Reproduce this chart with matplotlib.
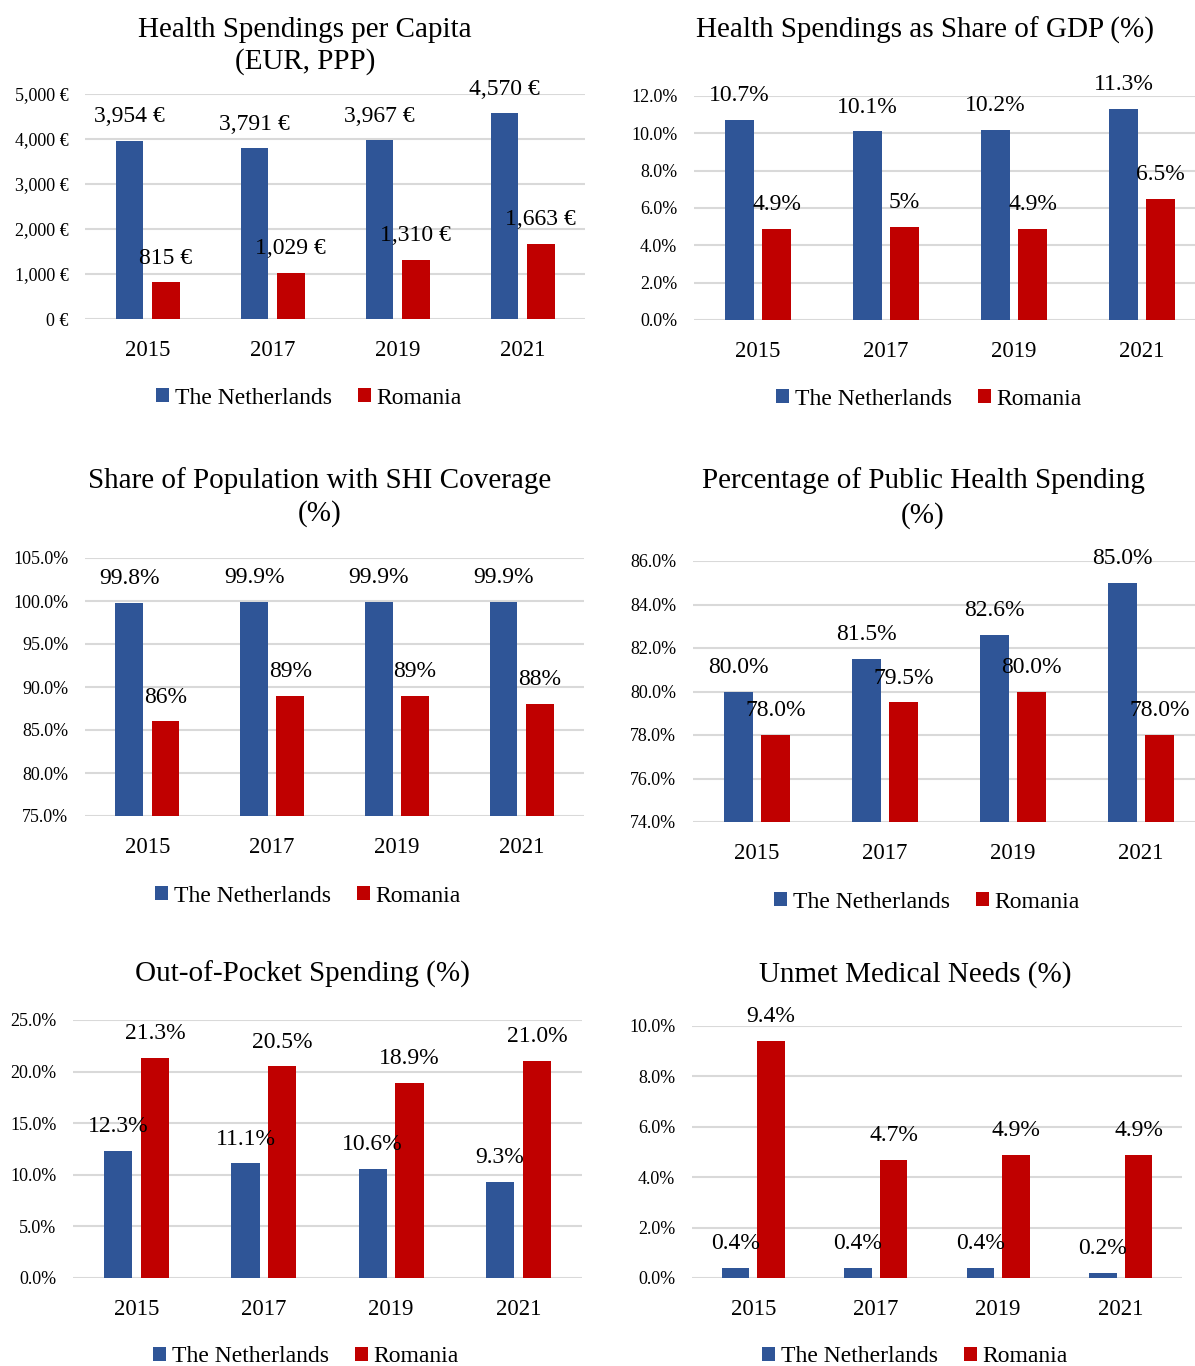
import matplotlib
matplotlib.use("Agg")
import matplotlib.pyplot as plt
from matplotlib.patches import Patch
import numpy as np

plt.rcParams['font.family'] = ['Liberation Serif', 'DejaVu Serif']

W, H = 1195, 1366
BLUE = '#2F5597'
RED = '#C00000'
GRID = '#D9D9D9'

years = ['2015', '2017', '2019', '2021']
series_names = ['The Netherlands', 'Romania']

# Panel 1: Health spendings per capita (EUR, PPP)
spend_nl = [3954, 3791, 3967, 4570]
spend_ro = [815, 1029, 1310, 1663]
spend_nl_lbl = ['3,954 €', '3,791 €', '3,967 €', '4,570 €']
spend_ro_lbl = ['815 €', '1,029 €', '1,310 €', '1,663 €']

# Panel 2: Health spendings as share of GDP (%)
gdp_nl = [10.7, 10.1, 10.2, 11.3]
gdp_ro = [4.9, 5.0, 4.9, 6.5]
gdp_nl_lbl = ['10.7%', '10.1%', '10.2%', '11.3%']
gdp_ro_lbl = ['4.9%', '5%', '4.9%', '6.5%']

# Panel 3: Share of population with SHI coverage (%)
shi_nl = [99.8, 99.9, 99.9, 99.9]
shi_ro = [86, 89, 89, 88]
shi_nl_lbl = ['99.8%', '99.9%', '99.9%', '99.9%']
shi_ro_lbl = ['86%', '89%', '89%', '88%']

# Panel 4: Percentage of public health spending (%)
pub_nl = [80.0, 81.5, 82.6, 85.0]
pub_ro = [78.0, 79.5, 80.0, 78.0]
pub_nl_lbl = ['80.0%', '81.5%', '82.6%', '85.0%']
pub_ro_lbl = ['78.0%', '79.5%', '80.0%', '78.0%']

# Panel 5: Out-of-pocket spending (%)
oop_nl = [12.3, 11.1, 10.6, 9.3]
oop_ro = [21.3, 20.5, 18.9, 21.0]
oop_nl_lbl = ['12.3%', '11.1%', '10.6%', '9.3%']
oop_ro_lbl = ['21.3%', '20.5%', '18.9%', '21.0%']

# Panel 6: Unmet medical needs (%)
unmet_nl = [0.4, 0.4, 0.4, 0.2]
unmet_ro = [9.4, 4.7, 4.9, 4.9]
unmet_nl_lbl = ['0.4%', '0.4%', '0.4%', '0.2%']
unmet_ro_lbl = ['9.4%', '4.7%', '4.9%', '4.9%']

fig = plt.figure(figsize=(W / 100, H / 100), dpi=100)


def fx(px):
    return px / W


def fy(py):
    return 1 - py / H


def panel(box, ylim, ystep, yfmt, nl, ro, nl_lbl, ro_lbl, titles, legend_xy):
    left, right, top, bottom = box
    ax = fig.add_axes([fx(left), fy(bottom), (right - left) / W, (bottom - top) / H])
    x = np.arange(len(years))
    bw, off = 0.222, 0.145
    ax.bar(x - off, nl, bw, color=BLUE, zorder=3)
    ax.bar(x + off, ro, bw, color=RED, zorder=3)
    ax.set_xlim(-0.5, len(years) - 0.5)
    ax.set_ylim(*ylim)
    ticks = np.arange(ylim[0], ylim[1] + ystep / 2, ystep)
    ax.set_yticks(ticks)
    ax.set_yticklabels([yfmt(t) for t in ticks])
    ax.set_xticks(x)
    ax.set_xticklabels(years)
    ax.tick_params(axis='y', length=0, pad=12, labelsize=13)
    ax.tick_params(axis='x', length=0, pad=15, labelsize=16.5)
    ax.grid(axis='y', color=GRID, linewidth=1.5, zorder=0)
    for s in ax.spines.values():
        s.set_visible(False)
    for xi, v, t in zip(x - off, nl, nl_lbl):
        ax.annotate(t, (xi, v), xytext=(0, 17.5), textcoords='offset points',
                    ha='center', va='center', fontsize=17, zorder=5)
    for xi, v, t in zip(x + off, ro, ro_lbl):
        ax.annotate(t, (xi, v), xytext=(0, 17.5), textcoords='offset points',
                    ha='center', va='center', fontsize=17, zorder=5)
    for (tx, ty, tt) in titles:
        fig.text(fx(tx), fy(ty + 2), tt, ha='center', va='center', fontsize=21)
    handles = [Patch(facecolor=BLUE), Patch(facecolor=RED)]
    fig.legend(handles, series_names, loc='center', ncol=2, frameon=False,
               bbox_to_anchor=(fx(legend_xy[0]), fy(legend_xy[1])),
               bbox_transform=fig.transFigure, fontsize=17,
               handlelength=0.55, handleheight=0.55, handletextpad=0.25,
               columnspacing=1.1, borderpad=0)
    return ax


eur = lambda t: f"{t:,.0f} €"
pct = lambda t: f"{t:.1f}%"

panel((85, 585, 94, 319), (0, 5000), 1000, eur, spend_nl, spend_ro, spend_nl_lbl, spend_ro_lbl,
      [(305, 28, 'Health Spendings per Capita'), (305, 60, '(EUR, PPP)')], (309, 398))
panel((694, 1206, 96, 320), (0, 12), 2, pct, gdp_nl, gdp_ro, gdp_nl_lbl, gdp_ro_lbl,
      [(925, 28, 'Health Spendings as Share of GDP (%)')], (929, 399))
panel((85, 584, 558, 816), (75, 105), 5, pct, shi_nl, shi_ro, shi_nl_lbl, shi_ro_lbl,
      [(320, 479, 'Share of Population with SHI Coverage'), (320, 512, '(%)')], (308, 896))
panel((693, 1205, 561, 822), (74, 86), 2, pct, pub_nl, pub_ro, pub_nl_lbl, pub_ro_lbl,
      [(923, 479, 'Percentage of Public Health Spending'), (923, 514, '(%)')], (927, 902))
panel((73, 582, 1020, 1278), (0, 25), 5, pct, oop_nl, oop_ro, oop_nl_lbl, oop_ro_lbl,
      [(302, 972, 'Out-of-Pocket Spending (%)')], (306, 1357))
panel((692, 1182, 1026, 1278), (0, 10), 2, pct, unmet_nl, unmet_ro, unmet_nl_lbl, unmet_ro_lbl,
      [(915, 973, 'Unmet Medical Needs (%)')], (915, 1357))

fig.savefig('out.png', dpi=100, facecolor='white')
